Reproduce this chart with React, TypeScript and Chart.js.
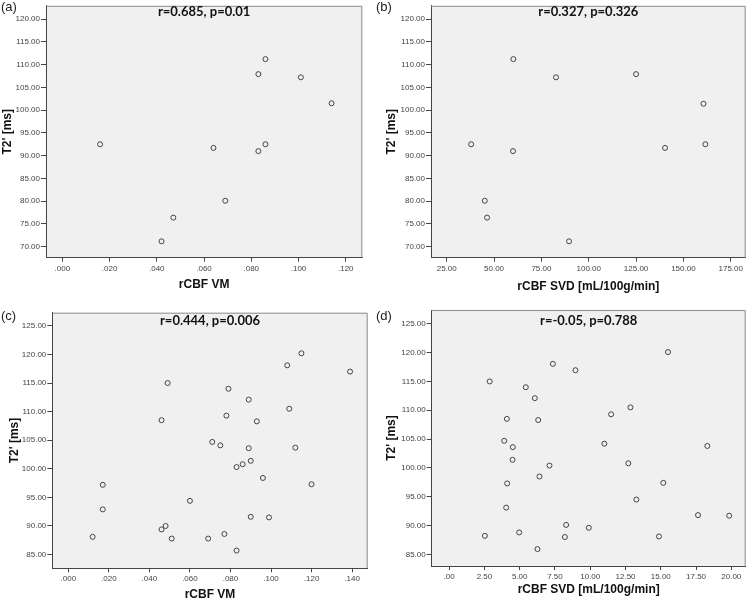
import React, { useEffect, useRef } from 'react';
import { Chart, registerables } from 'chart.js';

Chart.register(...registerables);

// ---------- DATA ----------
const aX = [0.016, 0.086, 0.083, 0.101, 0.114, 0.064, 0.083, 0.086, 0.069, 0.047, 0.042];
const aY = [92.5, 111.2, 107.9, 107.2, 101.5, 91.7, 91.0, 92.5, 80.1, 76.4, 71.2];

const bX = [60.2, 82.7, 125.0, 160.6, 37.9, 60.0, 140.3, 161.6, 45.1, 46.3, 89.6];
const bY = [111.2, 107.2, 107.9, 101.4, 92.5, 91.0, 91.7, 92.5, 80.1, 76.4, 71.2];

const cX = [0.017, 0.017, 0.012, 0.046, 0.048, 0.051, 0.060, 0.049, 0.046, 0.071, 0.075, 0.078, 0.079, 0.089, 0.093, 0.089, 0.090, 0.086, 0.083, 0.096, 0.090, 0.099, 0.069, 0.077, 0.083, 0.108, 0.115, 0.139, 0.109, 0.112, 0.120];
const cY = [97.2, 92.9, 88.1, 89.4, 90.0, 87.8, 94.4, 115.0, 108.5, 104.7, 104.1, 109.3, 114.0, 112.1, 108.3, 103.6, 101.4, 100.8, 100.3, 98.4, 91.6, 91.5, 87.8, 88.6, 85.7, 118.1, 120.2, 117.0, 110.5, 103.7, 97.3];

const dX = [2.87, 7.35, 8.95, 5.43, 6.07, 4.09, 6.31, 3.90, 4.51, 4.49, 7.11, 6.40, 4.11, 4.04, 2.53, 4.96, 8.29, 8.20, 6.26, 9.90, 11.48, 12.85, 11.0, 12.70, 15.51, 18.30, 15.18, 13.27, 17.64, 19.85, 14.87];
const dY = [115.0, 118.05, 116.95, 114.0, 112.1, 108.5, 108.3, 104.7, 103.6, 101.4, 100.4, 98.5, 97.3, 93.1, 88.2, 88.8, 90.1, 88.0, 85.9, 89.6, 109.3, 110.5, 104.2, 100.8, 120.1, 103.8, 97.4, 94.5, 91.8, 91.7, 88.1];

const vmTicks = [0, 0.02, 0.04, 0.06, 0.08, 0.1, 0.12];
const vmTickLabels = ['.000', '.020', '.040', '.060', '.080', '.100', '.120'];
const vmTicksC = [0, 0.02, 0.04, 0.06, 0.08, 0.1, 0.12, 0.14];
const vmTickLabelsC = ['.000', '.020', '.040', '.060', '.080', '.100', '.120', '.140'];
const svdTicksB = [25, 50, 75, 100, 125, 150, 175];
const svdTickLabelsB = ['25.00', '50.00', '75.00', '100.00', '125.00', '150.00', '175.00'];
const svdTicksD = [0, 2.5, 5, 7.5, 10, 12.5, 15, 17.5, 20];
const svdTickLabelsD = ['.00', '2.50', '5.00', '7.50', '10.00', '12.50', '15.00', '17.50', '20.00'];
const t2TicksTop = [70, 75, 80, 85, 90, 95, 100, 105, 110, 115, 120];
const t2TickLabelsTop = ['70.00', '75.00', '80.00', '85.00', '90.00', '95.00', '100.00', '105.00', '110.00', '115.00', '120.00'];
const t2TicksBottom = [85, 90, 95, 100, 105, 110, 115, 120, 125];
const t2TickLabelsBottom = ['85.00', '90.00', '95.00', '100.00', '105.00', '110.00', '115.00', '120.00', '125.00'];

const panelLetters = ['(a)', '(b)', '(c)', '(d)'];
const statTexts = ['r=0.685, p=0.01', 'r=0.327, p=0.326', 'r=0.444, p=0.006', 'r=-0.05, p=0.788'];
const xTitles = ['rCBF VM', 'rCBF SVD [mL/100g/min]', 'rCBF VM', 'rCBF SVD [mL/100g/min]'];
const yTitle = "T2' [ms]";

// ---------- LAYOUT ----------
type Panel = {
  xs: number[]; ys: number[];
  xTicks: number[]; xLabels: string[]; yTicks: number[]; yLabels: string[];
  xMin: number; xMax: number; yMin: number; yMax: number;
  left: number; top: number; w: number; h: number;
  area: { l: number; r: number; t: number; b: number };
  yTitlePad: number; xTitlePad: number; statY: number; letterY: number;
};

const panels: Panel[] = [
  { xs: aX, ys: aY, xTicks: vmTicks, xLabels: vmTickLabels, yTicks: t2TicksTop, yLabels: t2TickLabelsTop,
    xMin: -0.0069, xMax: 0.127, yMin: 67.6, yMax: 122.9,
    left: 0, top: 0, w: 375, h: 300, area: { l: 46, r: 362.3, t: 2.7, b: 257.7 },
    yTitlePad: 0.5, xTitlePad: 7.8, statY: 11.7, letterY: 7.8 },
  { xs: bX, ys: bY, xTicks: svdTicksB, xLabels: svdTickLabelsB, yTicks: t2TicksTop, yLabels: t2TickLabelsTop,
    xMin: 16.7, xMax: 182.9, yMin: 67.6, yMax: 122.9,
    left: 375, top: 0, w: 375, h: 300, area: { l: 56, r: 370.7, t: 2.7, b: 257.7 },
    yTitlePad: 9.5, xTitlePad: 6.1, statY: 12, letterY: 7.8 },
  { xs: cX, ys: cY, xTicks: vmTicksC, xLabels: vmTickLabelsC, yTicks: t2TicksBottom, yLabels: t2TickLabelsBottom,
    xMin: -0.0079, xMax: 0.1477, yMin: 82.6, yMax: 127.3,
    left: 0, top: 300, w: 375, h: 302, area: { l: 52.3, r: 367.7, t: 12.7, b: 268.3 },
    yTitlePad: 7.1, xTitlePad: 0, statY: 21.3, letterY: 16.7 },
  { xs: dX, ys: dY, xTicks: svdTicksD, xLabels: svdTickLabelsD, yTicks: t2TicksBottom, yLabels: t2TickLabelsBottom,
    xMin: -1.24, xMax: 21.02, yMin: 82.97, yMax: 127.4,
    left: 375, top: 300, w: 375, h: 302, area: { l: 56.7, r: 370.7, t: 10, b: 266 },
    yTitlePad: 9.5, xTitlePad: 4.8, statY: 20.5, letterY: 16.2 },
];

const TICK_FONT = { family: "'Liberation Sans Narrow', 'Liberation Sans', Arial, sans-serif", size: 8 };
const TITLE_FONT = { family: "'Liberation Sans', Arial, sans-serif", size: 12, weight: 'bold' as const };

function PanelChart({ p, idx }: { p: Panel; idx: number }) {
  const ref = useRef<HTMLCanvasElement | null>(null);
  useEffect(() => {
    if (!ref.current) return;
    const framePlugin = {
      id: 'frame' + idx,
      beforeDraw(chart: any) {
        const { ctx, chartArea: a } = chart;
        ctx.save();
        ctx.fillStyle = '#f0f0f0';
        ctx.fillRect(a.left, a.top, a.right - a.left, a.bottom - a.top);
        ctx.restore();
      },
      afterDraw(chart: any) {
        const { ctx, chartArea: a } = chart;
        ctx.save();
        ctx.strokeStyle = '#8c8c8c';
        ctx.lineWidth = 1;
        ctx.beginPath();
        ctx.moveTo(a.left, a.top + 0.5);
        ctx.lineTo(a.right - 0.5, a.top + 0.5);
        ctx.lineTo(a.right - 0.5, a.bottom);
        ctx.stroke();
        ctx.fillStyle = '#111';
        ctx.font = "bold 13px Lato, 'Liberation Sans', sans-serif";
        ctx.textAlign = 'center';
        ctx.textBaseline = 'middle';
        ctx.fillText(statTexts[idx], (a.left + a.right) / 2, p.statY);
        ctx.font = "13px 'Liberation Sans', Arial, sans-serif";
        ctx.fillStyle = '#222';
        ctx.textAlign = 'left';
        ctx.fillText(panelLetters[idx], 1, p.letterY);
        ctx.restore();
      },
    };
    const pts = p.xs.map((x, i) => ({ x, y: p.ys[i] }));
    const chart = new Chart(ref.current, {
      type: 'scatter',
      data: {
        datasets: [{
          data: pts,
          pointRadius: 2.5,
          pointHoverRadius: 2.5,
          pointBorderWidth: 1,
          borderColor: '#444',
          backgroundColor: 'rgba(0,0,0,0)',
          pointBackgroundColor: 'rgba(0,0,0,0)',
          pointBorderColor: '#444',
        }],
      },
      options: {
        animation: false,
        responsive: false,
        events: [],
        layout: { padding: { left: 0, top: p.area.t, right: p.w - p.area.r, bottom: 0 } },
        plugins: { legend: { display: false }, tooltip: { enabled: false } },
        scales: {
          x: {
            type: 'linear',
            min: p.xMin,
            max: p.xMax,
            afterBuildTicks: (s: any) => { s.ticks = p.xTicks.map((v) => ({ value: v })); },
            afterFit: (s: any) => { s.height = p.h - p.area.b; },
            ticks: {
              autoSkip: false, maxRotation: 0, minRotation: 0, padding: 2,
              color: '#444', font: TICK_FONT,
              callback: (_v: any, i: number) => p.xLabels[i],
            },
            grid: { display: true, drawOnChartArea: false, drawTicks: true, tickLength: 4, color: '#444' },
            border: { display: true, color: '#444' },
            title: { display: true, text: xTitles[idx], color: '#111', font: TITLE_FONT, padding: { top: 0, bottom: p.xTitlePad } },
          },
          y: {
            type: 'linear',
            min: p.yMin,
            max: p.yMax,
            afterBuildTicks: (s: any) => { s.ticks = p.yTicks.map((v) => ({ value: v })); },
            afterFit: (s: any) => { s.width = p.area.l; },
            ticks: {
              autoSkip: false, padding: 1,
              color: '#444', font: TICK_FONT,
              callback: (_v: any, i: number) => p.yLabels[i],
            },
            grid: { display: true, drawOnChartArea: false, drawTicks: true, tickLength: 5, color: '#444' },
            border: { display: true, color: '#444' },
            title: { display: true, text: yTitle, color: '#111', font: TITLE_FONT, padding: { top: p.yTitlePad, bottom: 0 } },
          },
        },
      },
      plugins: [framePlugin],
    } as any);
    return () => chart.destroy();
  }, [p, idx]);
  return (
    <canvas
      ref={ref}
      width={p.w}
      height={p.h}
      style={{ position: 'absolute', left: p.left, top: p.top, width: p.w, height: p.h }}
    />
  );
}

export default function App() {
  return (
    <div style={{ position: 'absolute', left: 0, top: 0, width: 750, height: 602, background: '#fff' }}>
      {panels.map((p, i) => (
        <PanelChart key={i} p={p} idx={i} />
      ))}
    </div>
  );
}
